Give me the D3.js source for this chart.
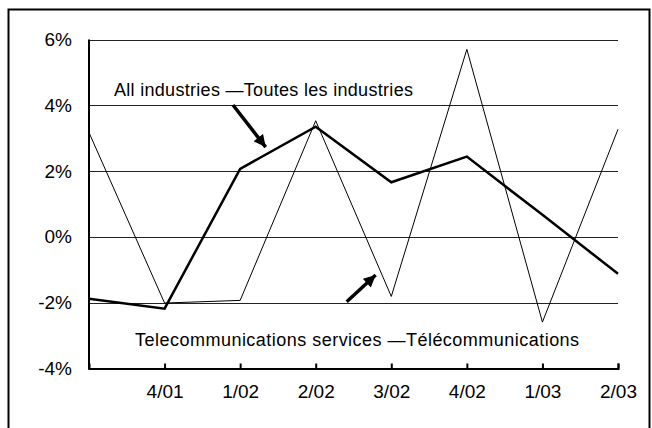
<!DOCTYPE html>
<html>
<head>
<meta charset="utf-8">
<script src="https://cdn.jsdelivr.net/npm/d3@7"></script>
<style>
  body { margin: 0; background: #fff; }
  svg { display: block; font-family: "Liberation Sans", Arial, sans-serif; }
</style>
</head>
<body>
<div id="chart"></div>
<script>
// quarters (first one has no label on the axis)
const quarters = ["3/01", "4/01", "1/02", "2/02", "3/02", "4/02", "1/03", "2/03"];
const quarterLabels = ["", "4/01", "1/02", "2/02", "3/02", "4/02", "1/03", "2/03"];
// % change
const allIndustries = [-1.88, -2.18, 2.07, 3.35, 1.66, 2.44, 0.67, -1.12];
const telecom = [3.17, -2.01, -1.93, 3.53, -1.81, 5.7, -2.59, 3.27];
const yTicks = [-4, -2, 0, 2, 4, 6];

const W = 652, H = 428;
const margin = { top: 39.5, left: 89, right: 34, bottom: 59.5 };

const svg = d3.select("#chart").append("svg")
  .attr("width", W)
  .attr("height", H);

// outer frame
svg.append("rect")
  .attr("x", 8.5).attr("y", 9.5)
  .attr("width", 641).attr("height", 440)
  .attr("fill", "none")
  .attr("stroke", "#000")
  .attr("stroke-width", 2);

const x = d3.scalePoint().domain(quarters).range([margin.left, W - margin.right]);
// index scale for annotations
const xi = d3.scaleLinear().domain([0, quarters.length - 1]).range([margin.left, W - margin.right]);
const y = d3.scaleLinear().domain([-4, 6]).range([H - margin.bottom, margin.top]);

/* gridlines */
svg.append("g")
  .selectAll("line")
  .data(yTicks.filter(d => d > -4))
  .join("line")
  .attr("x1", margin.left).attr("x2", W - margin.right)
  .attr("y1", d => Math.round(y(d)) + 0.5).attr("y2", d => Math.round(y(d)) + 0.5)
  .attr("stroke", "#222")
  .attr("stroke-width", 1);

/* y axis */
const yAxis = d3.axisLeft(y)
  .tickValues(yTicks)
  .tickSize(0)
  .tickPadding(17)
  .tickFormat(d => d + "%");
const yg = svg.append("g")
  .attr("transform", `translate(${margin.left},0)`)
  .call(yAxis);
yg.select(".domain").remove();
yg.selectAll("text").attr("font-size", 19).attr("fill", "#000");

svg.append("line")
  .attr("x1", margin.left).attr("x2", margin.left)
  .attr("y1", y(6)).attr("y2", y(-4) + 1)
  .attr("stroke", "#000").attr("stroke-width", 2);

/* x axis */
const xAxis = d3.axisBottom(x)
  .tickValues(quarters.slice(1))
  .tickSize(-5)
  .tickPadding(16)
  .tickFormat((d) => quarterLabels[quarters.indexOf(d)]);
const xg = svg.append("g")
  .attr("transform", `translate(0,${y(-4)})`)
  .call(xAxis);
xg.select(".domain").attr("stroke", "#000").attr("stroke-width", 2);
xg.selectAll(".tick line").attr("stroke", "#000").attr("stroke-width", 2);
xg.selectAll("text").attr("font-size", 19).attr("fill", "#000");

/* series */
const line = d3.line()
  .x((d, i) => x(quarters[i]))
  .y((d) => y(d));

svg.append("path")
  .datum(telecom)
  .attr("d", line)
  .attr("fill", "none")
  .attr("stroke", "#000")
  .attr("stroke-width", 1);

svg.append("path")
  .datum(allIndustries)
  .attr("d", line)
  .attr("fill", "none")
  .attr("stroke", "#000")
  .attr("stroke-width", 2.5)
  .attr("stroke-linejoin", "miter");

/* annotations */
svg.append("defs").append("marker")
  .attr("id", "head")
  .attr("viewBox", "0 0 10 10")
  .attr("refX", 10).attr("refY", 5)
  .attr("markerUnits", "userSpaceOnUse")
  .attr("markerWidth", 13).attr("markerHeight", 12)
  .attr("orient", "auto")
  .append("path")
  .attr("d", "M0,0L10,5L0,10Z")
  .attr("fill", "#000");

const arrows = [
  { x1: 1.905, y1: 4.01, x2: 2.338, y2: 2.73 },
  { x1: 3.41, y1: -1.97, x2: 3.793, y2: -1.16 }
];
svg.append("g")
  .selectAll("line")
  .data(arrows)
  .join("line")
  .attr("x1", d => xi(d.x1)).attr("y1", d => y(d.y1))
  .attr("x2", d => xi(d.x2)).attr("y2", d => y(d.y2))
  .attr("stroke", "#000")
  .attr("stroke-width", 3.5)
  .attr("marker-end", "url(#head)");

const labels = [
  { t: "All industries \u2014Toutes les industries", x: 0.33, y: 4.29, w: 299 },
  { t: "Telecommunications services \u2014T\u00e9l\u00e9communications", x: 0.61, y: -3.33, w: 444 }
];
svg.append("g")
  .selectAll("text")
  .data(labels)
  .join("text")
  .attr("x", d => xi(d.x))
  .attr("y", d => y(d.y))
  .attr("font-size", 18)
  .attr("textLength", d => d.w)
  .attr("lengthAdjust", "spacing")
  .text(d => d.t);
</script>
</body>
</html>
